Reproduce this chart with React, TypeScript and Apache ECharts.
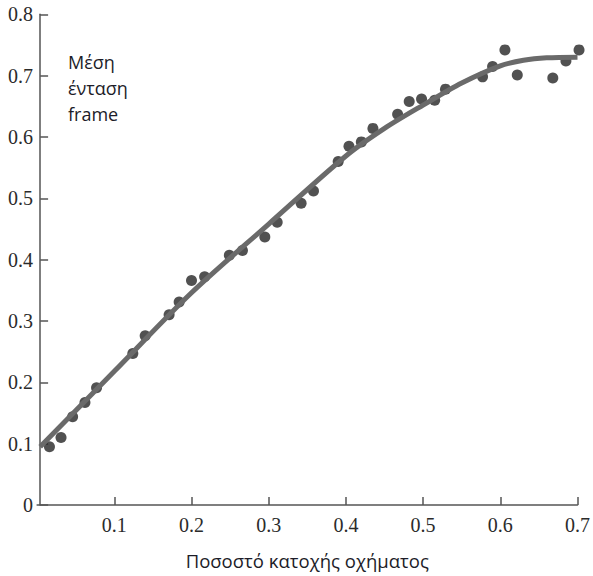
import React, { useEffect, useRef } from "react";
import * as echarts from "echarts";

const pointsX = [0.016, 0.031, 0.046, 0.062, 0.077, 0.124, 0.140, 0.171, 0.184, 0.200, 0.217, 0.249, 0.266, 0.295, 0.311, 0.342, 0.358, 0.390, 0.404, 0.420, 0.435, 0.467, 0.482, 0.498, 0.515, 0.529, 0.577, 0.590, 0.606, 0.622, 0.668, 0.685, 0.702];
const pointsY = [0.095, 0.110, 0.144, 0.167, 0.191, 0.247, 0.276, 0.310, 0.331, 0.366, 0.372, 0.407, 0.415, 0.437, 0.461, 0.492, 0.512, 0.560, 0.585, 0.592, 0.614, 0.637, 0.658, 0.662, 0.660, 0.678, 0.698, 0.715, 0.742, 0.701, 0.696, 0.724, 0.742];

const curveX = [0.004, 0.1, 0.2, 0.3, 0.4, 0.45, 0.5, 0.55, 0.6, 0.63, 0.66, 0.7];
const curveY = [0.095, 0.218, 0.346, 0.458, 0.569, 0.614, 0.652, 0.688, 0.716, 0.725, 0.729, 0.730];

const xTicks = [0.1, 0.2, 0.3, 0.4, 0.5, 0.6, 0.7];
const yTicks = [0, 0.1, 0.2, 0.3, 0.4, 0.5, 0.6, 0.7, 0.8];

const xName = "Ποσοστό κατοχής οχήματος";
const yName = "Μέση\nένταση\nframe";

export default function App() {
  const ref = useRef<HTMLDivElement>(null);
  useEffect(() => {
    document.body.style.margin = "0";
    if (!ref.current) return;
    const chart = echarts.init(ref.current, null, { renderer: "svg" });
    const axisColor = "#555";
    chart.setOption({
      animation: false,
      backgroundColor: "#fff",
      grid: { left: 37.1, top: 14.3, width: 540.6, height: 490.7, containLabel: false },
      xAxis: {
        type: "value",
        min: 0,
        max: 0.7,
        interval: 0.1,
        name: xName,
        nameLocation: "middle",
        nameGap: 46,
        nameTextStyle: { fontFamily: "Open Sans", fontSize: 18.5, color: "#1c1c28" },
        axisLine: { show: true, lineStyle: { color: axisColor, width: 1.5 } },
        axisTick: { show: true, inside: true, length: 8, customValues: xTicks, lineStyle: { color: axisColor, width: 1.5 } },
        axisLabel: {
          customValues: xTicks,
          fontFamily: "Liberation Serif",
          fontSize: 20,
          color: "#2b2b2b",
          margin: 10,
          formatter: (v: number) => String(Math.round(v * 10) / 10),
        },
        splitLine: { show: false },
      },
      yAxis: {
        type: "value",
        min: 0,
        max: 0.8,
        interval: 0.1,
        offset: -3,
        axisLine: { show: true, lineStyle: { color: axisColor, width: 1.5 } },
        axisTick: { show: true, inside: true, length: 8, customValues: yTicks, lineStyle: { color: axisColor, width: 1.5 } },
        axisLabel: {
          customValues: yTicks,
          fontFamily: "Liberation Serif",
          fontSize: 20,
          color: "#2b2b2b",
          margin: 7,
          formatter: (v: number) => String(Math.round(v * 10) / 10),
        },
        splitLine: { show: false },
      },
      graphic: [
        {
          type: "text",
          left: 68,
          top: 49,
          style: {
            text: yName,
            font: "18px 'Open Sans'",
            fill: "#1c1c28",
            lineHeight: 26,
          },
        },
      ],
      series: [
        {
          type: "scatter",
          data: pointsX.map((x, i) => [x, pointsY[i]]),
          symbol: "circle",
          symbolSize: 11,
          clip: false,
          itemStyle: { color: "#262626" },
          z: 2,
        },
        {
          type: "line",
          data: curveX.map((x, i) => [x, curveY[i]]),
          smooth: 0.3,
          showSymbol: false,
          symbol: "none",
          clip: false,
          lineStyle: { color: "#6a6a6a", width: 5 },
          z: 3,
        },
      ],
    });
    return () => chart.dispose();
  }, []);
  return <div ref={ref} style={{ width: 593, height: 576 }} />;
}
